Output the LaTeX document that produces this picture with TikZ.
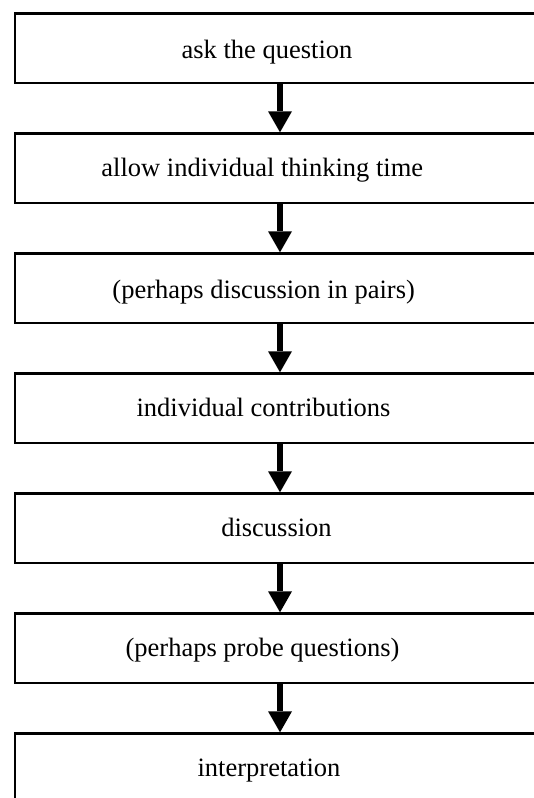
\documentclass[tikz,border=0pt]{standalone}
\usepackage{fontspec}
\setmainfont{Liberation Serif}
\usetikzlibrary{arrows.meta}
\begin{document}
\begin{tikzpicture}[x=1pt,y=-1pt,
  stepbox/.style={draw=black, line width=2.7pt, fill=white, minimum width=530pt, minimum height=69.3pt, inner sep=0pt, outer sep=0pt, anchor=north west},
  steptext/.style={anchor=base, inner sep=0pt, font=\fontsize{26.5}{30}\selectfont},
  flow/.style={line width=6.7pt, -{Triangle[width=24pt,length=21pt,line width=0pt]}, shorten >=1.35pt}]
\useasboundingbox[fill=white] (0,0) rectangle (533,798);
\foreach \i in {0,...,6} {
  \node[stepbox] (b\i) at (15,13.65+120*\i) {};
}
\node[steptext] (t0) at (267,58.3) {ask the question};
\node[steptext] (t1) at (262.3,176.7) {allow individual thinking time};
\node[steptext] (t2) at (263.7,298.5) {(perhaps discussion in pairs)};
\node[steptext] (t3) at (263.5,416.7) {individual contributions};
\node[steptext] (t4) at (276.5,536.7) {discussion};
\node[steptext] (t5) at (262.5,656.7) {(perhaps probe questions)};
\node[steptext] (t6) at (269,776.7) {interpretation};
\foreach \i [evaluate=\i as \j using int(\i+1)] in {0,...,5} {
  \draw[flow] (b\i.south) -- (b\j.north);
}
\end{tikzpicture}
\end{document}
